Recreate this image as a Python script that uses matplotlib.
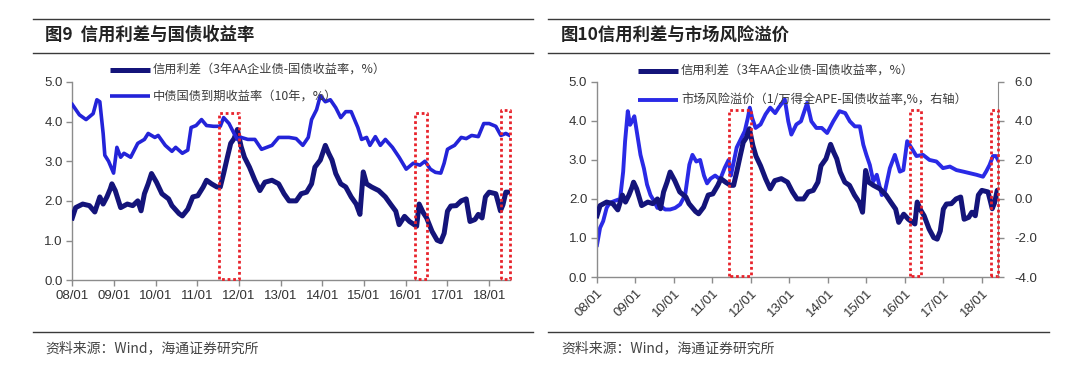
import matplotlib
matplotlib.use("Agg")
import matplotlib.pyplot as plt
from matplotlib.lines import Line2D

# ---------------- data ----------------
# credit spread (3Y AA corporate - government, %)
cs_t = [2008.0, 2008.08, 2008.25, 2008.41, 2008.54, 2008.66, 2008.74, 2008.83, 2008.91, 2008.95,
        2009.03, 2009.16, 2009.32, 2009.45, 2009.57, 2009.65, 2009.73, 2009.82, 2009.90, 2010.02,
        2010.15, 2010.31, 2010.39, 2010.56, 2010.64, 2010.77, 2010.89, 2011.01, 2011.14, 2011.22,
        2011.34, 2011.47, 2011.55, 2011.63, 2011.72, 2011.80, 2011.88, 2011.96, 2012.05, 2012.13,
        2012.25, 2012.38, 2012.50, 2012.62, 2012.79, 2012.95, 2013.08, 2013.20, 2013.37, 2013.49,
        2013.62, 2013.74, 2013.82, 2013.95, 2014.07, 2014.15, 2014.23, 2014.32, 2014.44, 2014.56,
        2014.69, 2014.81, 2014.90, 2014.98, 2015.06, 2015.18, 2015.35, 2015.51, 2015.64, 2015.76,
        2015.84, 2015.97, 2016.09, 2016.26, 2016.32, 2016.42, 2016.50, 2016.63, 2016.75, 2016.84,
        2016.92, 2017.00, 2017.08, 2017.21, 2017.33, 2017.45, 2017.54, 2017.66, 2017.74, 2017.83,
        2017.91, 2018.00, 2018.16, 2018.22, 2018.27, 2018.33, 2018.40, 2018.47]
cs_v = [1.57, 1.83, 1.92, 1.88, 1.72, 2.10, 1.92, 2.10, 2.30, 2.43,
        2.26, 1.83, 1.92, 1.88, 2.00, 1.75, 2.18, 2.43, 2.69, 2.47,
        2.18, 2.05, 1.88, 1.68, 1.62, 1.79, 2.10, 2.13, 2.35, 2.52,
        2.43, 2.35, 2.35, 2.69, 3.10, 3.45, 3.57, 3.80, 3.37, 3.10,
        2.85, 2.52, 2.26, 2.47, 2.52, 2.43, 2.18, 2.00, 2.00, 2.18,
        2.22, 2.43, 2.85, 3.03, 3.40, 3.20, 3.03, 2.69, 2.43, 2.35,
        2.10, 1.92, 1.66, 2.73, 2.43, 2.35, 2.26, 2.10, 1.91, 1.74,
        1.40, 1.61, 1.48, 1.36, 1.92, 1.70, 1.57, 1.23, 1.01, 0.97,
        1.18, 1.74, 1.87, 1.88, 2.00, 2.05, 1.48, 1.53, 1.66, 1.57,
        2.10, 2.22, 2.18, 1.95, 1.75, 1.90, 2.22, 2.22]

# 10Y government bond yield (%)
gb_t = [2008.0, 2008.17, 2008.33, 2008.50, 2008.59, 2008.66, 2008.74, 2008.78, 2008.87, 2008.99,
        2009.07, 2009.16, 2009.24, 2009.40, 2009.57, 2009.73, 2009.82, 2009.98, 2010.06, 2010.23,
        2010.39, 2010.48, 2010.64, 2010.77, 2010.85, 2010.97, 2011.10, 2011.22, 2011.39, 2011.55,
        2011.63, 2011.76, 2011.88, 2011.96, 2012.05, 2012.21, 2012.38, 2012.54, 2012.79, 2012.95,
        2013.20, 2013.37, 2013.53, 2013.66, 2013.74, 2013.86, 2013.95, 2014.07, 2014.19, 2014.32,
        2014.44, 2014.56, 2014.69, 2014.85, 2014.94, 2015.06, 2015.14, 2015.27, 2015.39, 2015.51,
        2015.68, 2015.84, 2016.01, 2016.18, 2016.34, 2016.46, 2016.59, 2016.71, 2016.84, 2016.92,
        2017.00, 2017.08, 2017.17, 2017.33, 2017.45, 2017.58, 2017.74, 2017.87, 2018.00, 2018.16,
        2018.28, 2018.40, 2018.49]
gb_v = [4.43, 4.17, 4.05, 4.20, 4.55, 4.50, 3.70, 3.15, 3.00, 2.70,
        3.35, 3.10, 3.20, 3.10, 3.45, 3.55, 3.70, 3.60, 3.65, 3.40,
        3.25, 3.35, 3.20, 3.28, 3.85, 3.90, 4.05, 3.90, 3.88, 3.88,
        4.10, 3.95, 3.70, 3.55, 3.60, 3.55, 3.55, 3.30, 3.40, 3.60,
        3.60, 3.57, 3.40, 3.60, 4.05, 4.30, 4.65, 4.50, 4.55, 4.35,
        4.10, 4.25, 4.25, 3.85, 3.55, 3.60, 3.40, 3.62, 3.40, 3.55,
        3.35, 3.10, 2.80, 2.95, 2.90, 3.00, 2.80, 2.72, 2.70, 2.95,
        3.30, 3.35, 3.40, 3.60, 3.57, 3.65, 3.62, 3.95, 3.95, 3.88,
        3.65, 3.70, 3.65]

# market risk premium (1/Wind A PE - government yield, %, right axis)
rp_t = [2008.0, 2008.08, 2008.16, 2008.25, 2008.33, 2008.46, 2008.60, 2008.68, 2008.73, 2008.80,
        2008.86, 2008.91, 2008.97, 2009.04, 2009.13, 2009.22, 2009.30, 2009.39, 2009.48, 2009.57,
        2009.68, 2009.77, 2009.90, 2010.03, 2010.16, 2010.29, 2010.40, 2010.48, 2010.58, 2010.68,
        2010.78, 2010.86, 2010.95, 2011.07, 2011.20, 2011.32, 2011.42, 2011.48, 2011.63, 2011.71,
        2011.84, 2011.92, 2011.97, 2012.03, 2012.12, 2012.25, 2012.38, 2012.50, 2012.63, 2012.72,
        2012.88, 2012.97, 2013.05, 2013.18, 2013.30, 2013.46, 2013.57, 2013.70, 2013.84, 2013.98,
        2014.14, 2014.30, 2014.45, 2014.57, 2014.70, 2014.83, 2014.92, 2015.00, 2015.09, 2015.18,
        2015.27, 2015.40, 2015.48, 2015.61, 2015.74, 2015.87, 2015.96, 2016.06, 2016.17, 2016.30,
        2016.47, 2016.64, 2016.82, 2016.99, 2017.17, 2017.34, 2017.52, 2017.69, 2017.86, 2018.03,
        2018.11, 2018.20, 2018.29, 2018.37, 2018.42]
rp_v = [-2.36, -1.48, -1.14, -0.46, -0.20, -0.10, 0.00, 1.40, 2.96, 4.50,
        3.80, 3.98, 4.24, 3.38, 2.26, 1.56, 0.74, 0.20, -0.10, -0.46,
        -0.40, -0.54, -0.54, -0.46, -0.28, 0.20, 1.76, 2.26, 1.92, 2.00,
        1.20, 0.80, 1.04, 1.20, 1.00, 1.60, 2.00, 1.20, 2.64, 2.96,
        3.48, 4.16, 4.68, 4.16, 3.64, 3.82, 4.34, 4.68, 4.40, 4.68,
        5.10, 3.98, 3.30, 3.82, 3.98, 4.92, 3.98, 3.64, 3.64, 3.38,
        3.98, 4.50, 4.40, 3.98, 3.72, 3.72, 2.78, 2.26, 1.74, 0.90,
        1.24, 0.20, 0.38, 1.58, 2.26, 1.40, 1.48, 2.96, 2.62, 2.20,
        2.26, 2.00, 1.92, 1.58, 1.66, 1.48, 1.40, 1.32, 1.24, 1.14,
        1.40, 1.74, 2.20, 2.20, 2.00]

years = list(range(2008, 2019))
year_labels = ["08/01", "09/01", "10/01", "11/01", "12/01", "13/01", "14/01",
               "15/01", "16/01", "17/01", "18/01"]

# highlight boxes (start, end, top) in left-axis units
left_box_start = [2011.53, 2016.22, 2018.28]
left_box_end = [2012.00, 2016.50, 2018.50]
left_box_top = [4.22, 4.22, 4.30]
right_box_start = [2011.43, 2016.14, 2018.24]
right_box_end = [2012.00, 2016.41, 2018.41]
right_box_top = [4.29, 4.29, 4.29]

fig9_title = "图9  信用利差与国债收益率"
fig10_title = "图10信用利差与市场风险溢价"
legend_cs = "信用利差（3年AA企业债-国债收益率，%）"
legend_gb = "中债国债到期收益率（10年，%）"
legend_rp = "市场风险溢价（1/万得全APE-国债收益率,%，右轴）"
source = "资料来源：Wind，海通证券研究所"

# ---------------- style ----------------
CJK = ["Noto Sans CJK SC", "DejaVu Sans"]
NUM = ["Liberation Sans", "DejaVu Sans"]
NAVY = "#14147a"
BLUE = "#2323d8"
BLUE2 = "#2a2ae6"
RED = "#e8232b"
GRID_GRAY = "#8c8c8c"
TXT = "#333333"

W, H = 1080, 375
fig = plt.figure(figsize=(10.8, 3.75), dpi=100)


def fx(px):
    return px / W


def fy(py):
    return 1 - py / H


def hline(x0, x1, y, lw=1.0, color="#3a3a3a"):
    fig.add_artist(Line2D([fx(x0), fx(x1)], [fy(y), fy(y)], transform=fig.transFigure,
                          color=color, lw=lw))


def legend_entry(x0, x1, y, color, lw, label):
    fig.add_artist(Line2D([fx(x0), fx(x1)], [fy(y), fy(y)], transform=fig.transFigure,
                          color=color, lw=lw, solid_capstyle="butt"))
    fig.text(fx(x1 + 3), fy(y), label, family=CJK, fontsize=8.8, color="#3c3c3c",
             va="center", ha="left")


def style_axes(ax, xmax):
    ax.set_xlim(2008.0, xmax)
    ax.set_ylim(0, 5)
    ax.set_yticks([0, 1, 2, 3, 4, 5])
    ax.set_yticklabels(["0.0", "1.0", "2.0", "3.0", "4.0", "5.0"])
    ax.set_xticks(years)
    for s in ["top", "right"]:
        ax.spines[s].set_visible(False)
    for s in ["left", "bottom"]:
        ax.spines[s].set_color(GRID_GRAY)
        ax.spines[s].set_linewidth(1.0)
    ax.tick_params(axis="both", direction="out", length=4, width=1, color=GRID_GRAY,
                   labelsize=9.5, labelcolor=TXT, pad=3)
    for lab in ax.get_xticklabels() + ax.get_yticklabels():
        lab.set_family(NUM)


def draw_boxes(ax, starts, ends, tops):
    for a, b, t in zip(starts, ends, tops):
        ax.plot([a, a, b, b, a], [0.02, t, t, 0.02, 0.02], ls=(0, (1, 1)), color=RED,
                lw=2.0, zorder=5, clip_on=False)


# ---------------- left chart ----------------
axL = fig.add_axes([fx(72.3), fy(280.2), fx(510 - 72.3), (280.2 - 81.9) / H])
axL.plot(cs_t, cs_v, color=NAVY, lw=3.6, solid_joinstyle="round", zorder=3)
axL.plot(gb_t, gb_v, color=BLUE, lw=2.6, solid_joinstyle="round", zorder=4)
draw_boxes(axL, left_box_start, left_box_end, left_box_top)
style_axes(axL, 2018.5)
axL.set_xticklabels(year_labels)

# ---------------- right chart ----------------
axR = fig.add_axes([fx(597), fy(277), fx(998 - 597), (277 - 81.9) / H])
axR.plot(cs_t, cs_v, color=NAVY, lw=3.6, solid_joinstyle="round", zorder=3)
style_axes(axR, 2018.42)
axR.set_xticklabels(year_labels, rotation=45, ha="right", rotation_mode="anchor")
axR2 = axR.twinx()
axR2.plot(rp_t, rp_v, color=BLUE2, lw=2.8, solid_joinstyle="round", zorder=4)
axR2.set_ylim(-4, 6)
axR2.set_yticks([-4, -2, 0, 2, 4, 6])
axR2.set_yticklabels(["-4.0", "-2.0", "0.0", "2.0", "4.0", "6.0"])
for s in ["top", "left", "bottom"]:
    axR2.spines[s].set_visible(False)
axR2.spines["right"].set_color(GRID_GRAY)
axR2.tick_params(axis="y", direction="out", length=4, width=1, color=GRID_GRAY,
                 labelsize=9.5, labelcolor=TXT, pad=8)
for lab in axR2.get_yticklabels():
    lab.set_family(NUM)
axR2.set_zorder(axR.get_zorder() + 1)
axR2.patch.set_visible(False)
draw_boxes(axR, right_box_start, right_box_end, right_box_top)
axR.set_zorder(axR2.get_zorder() + 1)
axR.patch.set_visible(False)

# ---------------- titles, rules, legends, source ----------------
hline(33, 533, 18.6)
hline(33, 533, 52.7)
hline(33, 533, 332)
hline(548, 1049, 18.6)
hline(548, 1049, 52.7)
hline(548, 1049, 332)

fig.text(fx(45), fy(35), fig9_title, family=CJK, fontsize=12.5, weight="bold",
         color="#222222", va="center", ha="left")
fig.text(fx(561), fy(35), fig10_title, family=CJK, fontsize=12.5, weight="bold",
         color="#222222", va="center", ha="left")

legend_entry(110, 150, 69.5, NAVY, 3.6, legend_cs)
legend_entry(110, 150, 95.6, BLUE, 2.6, legend_gb)
legend_entry(638, 678, 70.5, NAVY, 3.6, legend_cs)
legend_entry(638, 678, 99.8, BLUE2, 2.8, legend_rp)

fig.text(fx(45), fy(348), source, family=CJK, fontsize=10, color="#444444",
         va="center", ha="left")
fig.text(fx(561), fy(348), source, family=CJK, fontsize=10, color="#444444",
         va="center", ha="left")

fig.savefig("out.png", dpi=100)
